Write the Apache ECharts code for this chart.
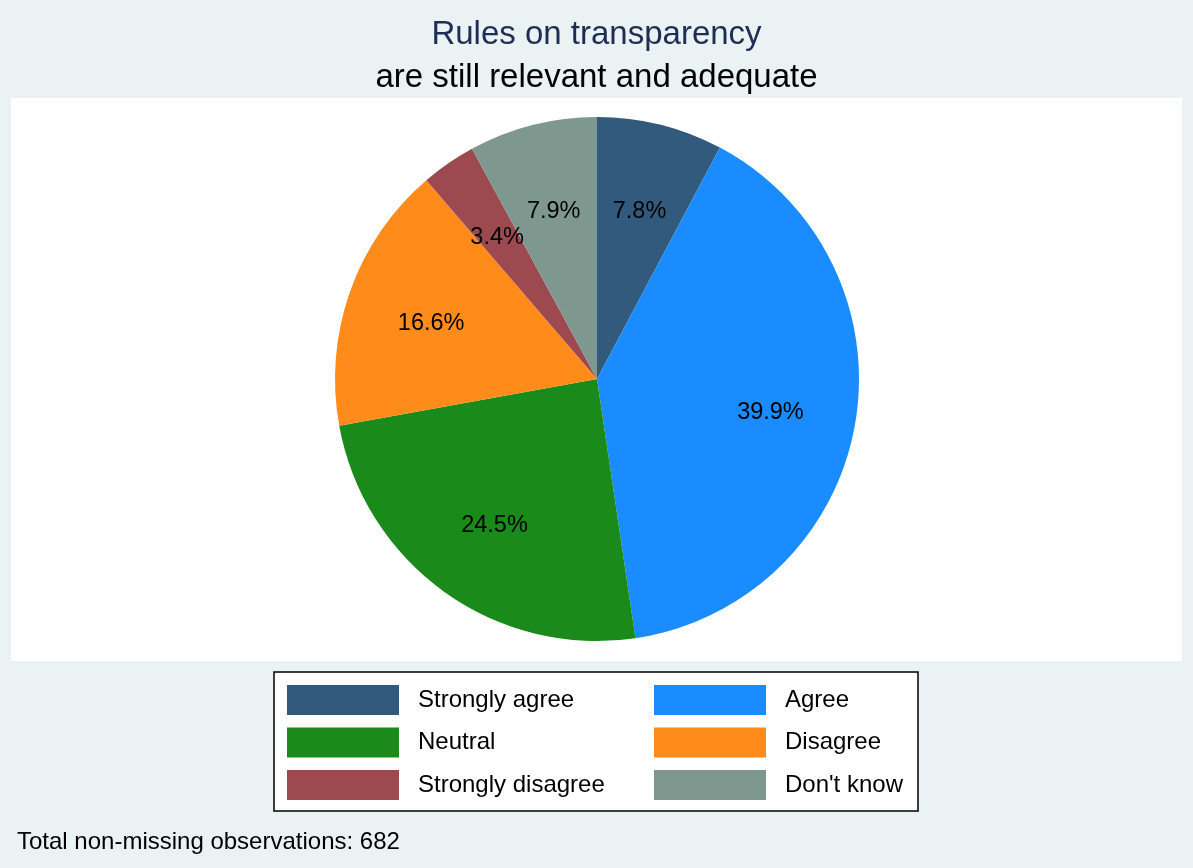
<!DOCTYPE html>
<html>
<head>
<meta charset="utf-8">
<script src="https://cdn.jsdelivr.net/npm/echarts@6/dist/echarts.min.js"></script>
<style>
html,body{margin:0;padding:0;background:#eaf2f3;}
#chart{width:1193px;height:868px;}
</style>
</head>
<body>
<div id="chart"></div>
<script>
// Data (counts out of 682 non-missing observations)
const categories = ['Strongly agree', 'Agree', 'Neutral', 'Disagree', 'Strongly disagree', "Don't know"];
const counts = [53, 272, 167, 113, 23, 54];
const colors = ['#325a7d', '#1a8cff', '#1a8a1a', '#ff8c1a', '#9c4a50', '#7f988f'];
const totalObs = 682;
const titleLine1 = 'Rules on transparency';
const titleLine2 = 'are still relevant and adequate';
const noteText = 'Total non-missing observations: ' + totalObs;

const FONT = '"Liberation Sans", Arial, sans-serif';
const chart = echarts.init(document.getElementById('chart'), null, {renderer: 'canvas'});

const pieData = categories.map((c, i) => ({name: c, value: counts[i], itemStyle: {color: colors[i]}}));
const labelData = categories.map((c, i) => ({name: c, value: counts[i]}));

const leftNames = [categories[0], categories[2], categories[4]];
const rightNames = [categories[1], categories[3], categories[5]];

const legendCommon = {
  orient: 'vertical',
  top: 685,
  icon: 'rect',
  itemWidth: 112,
  itemHeight: 30,
  itemGap: 12.5,
  selectedMode: false,
  padding: 0,
  textStyle: {fontFamily: FONT, fontSize: 24, color: '#000', padding: [4, 0, 0, 14]}
};

chart.setOption({
  backgroundColor: '#eaf2f3',
  animation: false,
  title: [
    {text: titleLine1, left: 'center', top: 18, padding: 0,
     textStyle: {fontFamily: FONT, fontSize: 33, fontWeight: 'normal', color: '#1e2d53', lineHeight: 33}},
    {text: titleLine2, left: 'center', top: 61, padding: 0,
     textStyle: {fontFamily: FONT, fontSize: 33, fontWeight: 'normal', color: '#000', lineHeight: 33}},
    {text: noteText, left: 17, top: 830, padding: 0,
     textStyle: {fontFamily: FONT, fontSize: 24, fontWeight: 'normal', color: '#000', lineHeight: 24}}
  ],
  graphic: [
    {type: 'rect', z: -10, silent: true, shape: {x: 11, y: 98, width: 1171, height: 563}, style: {fill: '#ffffff'}},
    {type: 'rect', z: -10, silent: true, shape: {x: 274, y: 672, width: 644, height: 139}, style: {fill: '#ffffff', stroke: '#000', lineWidth: 1.5}}
  ],
  legend: [
    Object.assign({}, legendCommon, {left: 287, data: leftNames}),
    Object.assign({}, legendCommon, {left: 654, data: rightNames})
  ],
  series: [
    {
      type: 'pie',
      center: [597, 379],
      radius: [0, 262],
      startAngle: 90,
      clockwise: true,
      silent: true,
      avoidLabelOverlap: false,
      label: {show: false},
      labelLine: {show: false},
      itemStyle: {borderWidth: 0},
      emphasis: {disabled: true},
      data: pieData
    },
    {
      // transparent overlay used only to place the percentage labels
      type: 'pie',
      center: [597, 382.5],
      radius: [84, 262],
      startAngle: 90,
      clockwise: true,
      silent: true,
      legendHoverLink: false,
      avoidLabelOverlap: false,
      itemStyle: {color: 'rgba(0,0,0,0)', borderWidth: 0},
      emphasis: {disabled: true},
      labelLine: {show: false},
      label: {
        show: true,
        position: 'inside',
        fontFamily: FONT,
        fontSize: 23.5,
        color: '#000',
        formatter: p => (p.value / counts.reduce((a, b) => a + b, 0) * 100).toFixed(1) + '%'
      },
      data: labelData
    }
  ]
});
</script>
</body>
</html>
